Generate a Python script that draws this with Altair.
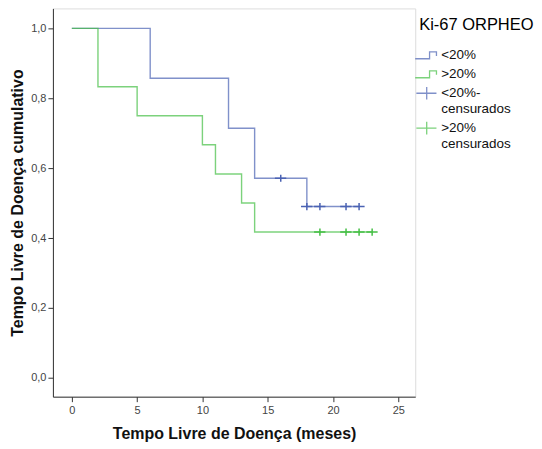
import altair as alt
import pandas as pd

categories = ["<20%", ">20%", "<20%-censurados", ">20% censurados"]
colors = ["#4a62b3", "#45bf45", "#4a62b3", "#45bf45"]

blue_t = [0, 6, 12, 14, 18, 22]
blue_s = [1.0, 0.857, 0.714, 0.571, 0.490, 0.490]
green_t = [0, 2, 5, 10, 11, 13, 14, 23]
green_s = [1.0, 0.833, 0.75, 0.667, 0.583, 0.5, 0.417, 0.417]
blue_cens_t = [16, 18, 19, 21, 22]
blue_cens_s = [0.571, 0.490, 0.490, 0.490, 0.490]
green_cens_t = [19, 21, 22, 23]
green_cens_s = [0.417, 0.417, 0.417, 0.417]

x_ticks = [0, 5, 10, 15, 20, 25]
y_ticks = [0.0, 0.2, 0.4, 0.6, 0.8, 1.0]

lines = pd.DataFrame(
    [{"t": t, "s": s, "cat": "<20%"} for t, s in zip(blue_t, blue_s)]
    + [{"t": t, "s": s, "cat": ">20%"} for t, s in zip(green_t, green_s)]
)
cens = pd.DataFrame(
    [{"t": t, "s": s, "cat": "<20%-censurados"} for t, s in zip(blue_cens_t, blue_cens_s)]
    + [{"t": t, "s": s, "cat": ">20% censurados"} for t, s in zip(green_cens_t, green_cens_s)]
)

step_path = "M -1 0.3 L 0.25 0.3 L 0.25 -0.3 L 0.85 -0.3 L 0.85 0.05"
cross_path = "M -0.9 0 L 0.85 0 M 0 -0.55 L 0 0.55"

FONT = "Liberation Sans"

xscale = alt.Scale(domain=[-1.45, 26.3], nice=False, zero=False)
yscale = alt.Scale(domain=[-0.054, 1.057], nice=False, zero=False)

color = alt.Color(
    "cat:N",
    scale=alt.Scale(domain=categories, range=colors),
    legend=alt.Legend(
        title="Ki-67 ORPHEO",
        orient="none",
        legendX=367,
        legendY=9,
        symbolOffset=-5,
        titleFontSize=16.5,
        titleFontWeight="normal",
        titleFont=FONT,
        titleColor="#000",
        labelFont=FONT,
        labelFontSize=13.5,
        labelColor="#111",
        symbolSize=529,
        symbolStrokeWidth=1.3,
        labelOffset=2,
        rowPadding=-4,
        titlePadding=9,
        labelExpr="datum.label == '<20%-censurados' ? ['<20%-', 'censurados'] : datum.label == '>20% censurados' ? ['>20%', 'censurados'] : datum.label",
    ),
)

x = alt.X(
    "t:Q",
    scale=xscale,
    axis=alt.Axis(
        title="Tempo Livre de Doença (meses)",
        values=x_ticks,
        grid=False,
        tickSize=5,
        labelFontSize=11,
        labelFont=FONT,
        labelColor="#444",
        titleFont=FONT,
        titleFontSize=16,
        titleFontWeight="bold",
        titleColor="#111",
        titlePadding=10,
        domainColor="#333",
        tickColor="#333",
        labelPadding=3,
    ),
)
y = alt.Y(
    "s:Q",
    scale=yscale,
    axis=alt.Axis(
        title="Tempo Livre de Doença cumulativo",
        values=y_ticks,
        grid=False,
        tickSize=5,
        labelFontSize=11,
        labelFont=FONT,
        labelColor="#444",
        labelExpr="replace(format(datum.value, '.1f'), '.', ',')",
        titleFont=FONT,
        titleFontSize=16,
        titleFontWeight="bold",
        titleColor="#111",
        titlePadding=5,
        domainColor="#333",
        tickColor="#333",
        labelPadding=2,
    ),
)

line_layer = alt.Chart(lines).mark_line(interpolate="step-after", strokeWidth=1.4, opacity=0.7).encode(
    x=x, y=y, color=color, detail="cat:N"
)
cens_layer = alt.Chart(cens).mark_point(filled=False, strokeWidth=1.5, size=169, opacity=1).encode(
    x=x,
    y=y,
    color=color,
    shape=alt.Shape(
        "cat:N",
        scale=alt.Scale(domain=categories, range=[step_path, step_path, cross_path, cross_path]),
        legend=alt.Legend(title="Ki-67 ORPHEO"),
    ),
)

chart = (
    alt.layer(line_layer, cens_layer)
    .properties(width=363, height=389, padding={"left": 1, "top": 0, "right": 0, "bottom": 0}, background="white")
    .configure_view(fill="#f0f0f0", stroke="#555", strokeWidth=1)
    .configure(style={"guide-label": {"lineHeight": 15.5}})
)

chart.save("out.html", embed_options={"renderer": "svg", "actions": False})
